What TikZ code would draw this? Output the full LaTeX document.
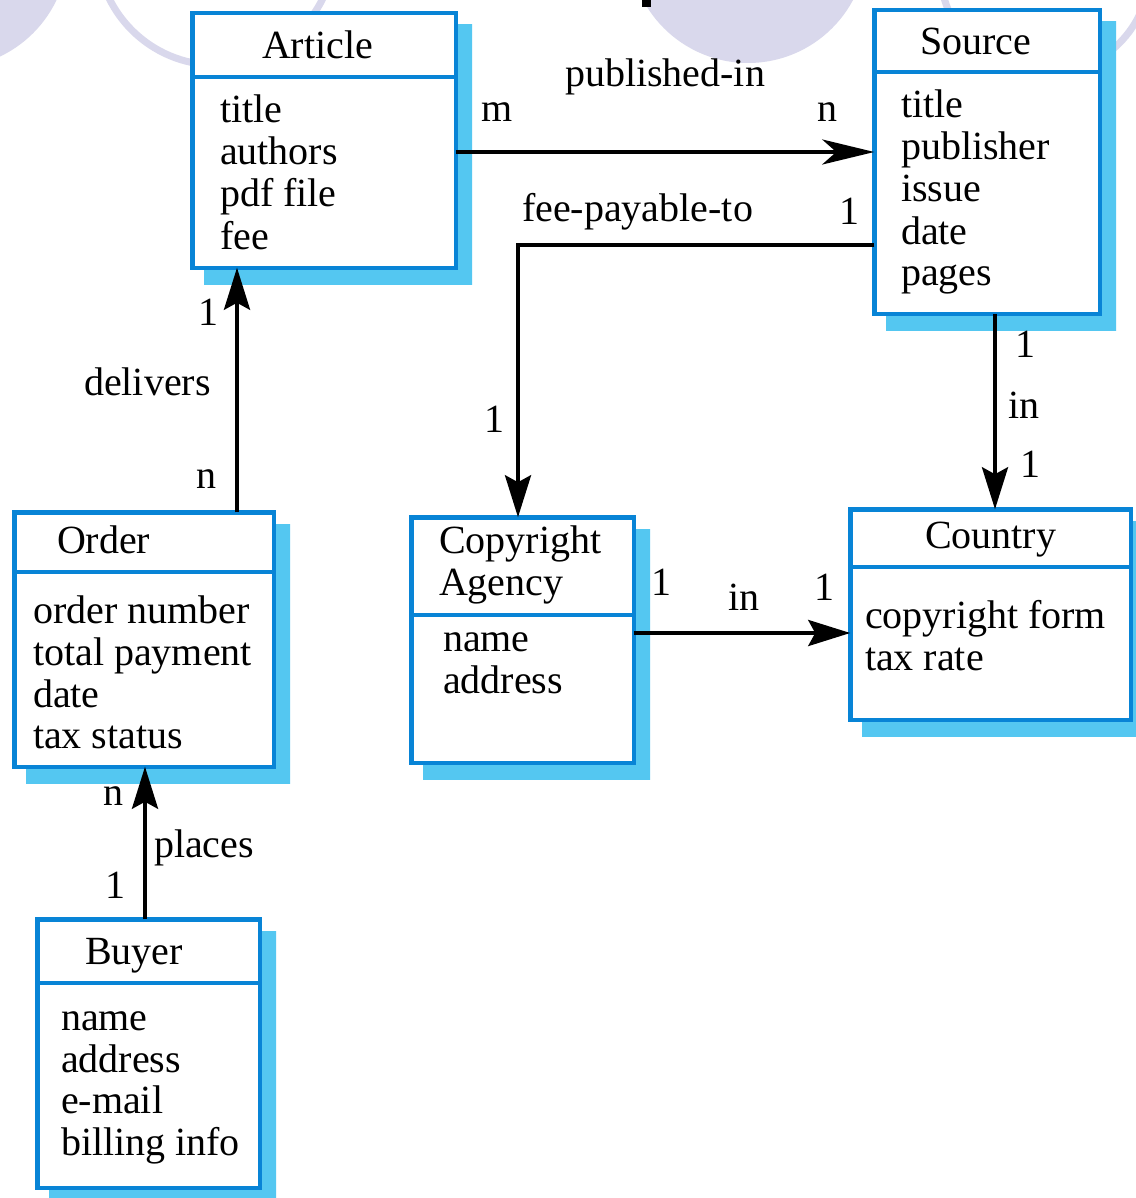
\documentclass[tikz,border=0pt]{standalone}
\usepackage{fontspec}
\setmainfont{Liberation Serif}
\usetikzlibrary{arrows.meta}
\definecolor{lav}{RGB}{217,216,236}
\definecolor{bblue}{RGB}{8,132,214}
\definecolor{shdark}{RGB}{0,171,236}
\definecolor{shmid}{RGB}{30,182,237}
\definecolor{shlight}{RGB}{84,199,241}
\pgfdeclareradialshading{boxshade}{\pgfpoint{0bp}{0bp}}{color(0bp)=(shlight); color(36bp)=(shlight); color(50bp)=(shmid); color(60bp)=(shdark); color(71bp)=(shdark)}
\tikzset{
  cbox/.style={draw=bblue, line width=4.5pt, fill=white, inner sep=0pt, outer sep=0pt, rectangle},
  divline/.style={draw=bblue, line width=4.5pt},
  txt/.style={inner sep=0pt, outer sep=0pt, anchor=base west, font=\fontsize{40}{42}\selectfont},
  conn/.style={draw=black, line width=4pt, -{Stealth[length=42pt,width=26pt,inset=7pt]}},
  connlong/.style={draw=black, line width=4pt, -{Stealth[length=52pt,width=25pt,inset=14pt]}},
  bgring/.style={draw=lav, line width=7pt},
}
% name, x1, y1, x2, y2, divider y
\newcommand\classbox[6]{%
  \shade[shading=boxshade] (#2+14,#3+14) rectangle (#4+14,#5+14);
  \node[cbox, minimum width={#4-#2-4.5}, minimum height={#5-#3-4.5}] (#1) at ({(#2+#4)/2},{(#3+#5)/2}) {};
  \draw[divline] (#2+2,#6) -- (#4-2,#6);
}
\begin{document}
\begin{tikzpicture}[x=1pt,y=-1pt]
\useasboundingbox (0,0) rectangle (1135,1198);
\fill[white] (0,0) rectangle (1135,1198);
% background decoration
\fill[lav] (-51,-51) circle (119);
\draw[bgring] (216,-54) circle (119);
\fill[lav] (748,-56) circle (119);
\draw[bgring] (1045,-31) circle (105);
\fill[black] (642,-2) rectangle (651,7);

% class boxes
\classbox{article}{190}{11}{458}{270}{77}
\classbox{source}{872}{8}{1102}{316}{72}
\classbox{order}{12}{510}{276}{769}{572}
\classbox{agency}{409}{515}{636}{765}{615}
\classbox{country}{848}{507}{1133}{722}{567}
\classbox{buyer}{35}{917}{262}{1190}{983}

% Article
\node[txt] (articleT) at (262,59) {Article};
\node[txt] (articleA1) at (220,123) {title};
\node[txt] (articleA2) at (220,165) {authors};
\node[txt] (articleA3) at (220,207) {pdf file};
\node[txt] (articleA4) at (220,250) {fee};
% Source
\node[txt] (sourceT) at (920,55) {Source};
\node[txt] (sourceA1) at (901,118) {title};
\node[txt] (sourceA2) at (901,160) {publisher};
\node[txt] (sourceA3) at (901,202) {issue};
\node[txt] (sourceA4) at (901,244) {date};
\node[txt] (sourceA5) at (901,285) {pages};
% Order
\node[txt] (orderT) at (57,553) {Order};
\node[txt] (orderA1) at (33,623) {order number};
\node[txt] (orderA2) at (33,665) {total payment};
\node[txt] (orderA3) at (33,707) {date};
\node[txt] (orderA4) at (33,748) {tax status};
% Copyright Agency
\node[txt] (agencyT1) at (439,553) {Copyright};
\node[txt] (agencyT2) at (439,595) {Agency};
\node[txt] (agencyA1) at (443,651) {name};
\node[txt] (agencyA2) at (443,693) {address};
% Country
\node[txt] (countryT) at (925,548) {Country};
\node[txt] (countryA1) at (865,628) {copyright form};
\node[txt] (countryA2) at (865,670) {tax rate};
% Buyer
\node[txt] (buyerT) at (85,964) {Buyer};
\node[txt] (buyerA1) at (61,1030) {name};
\node[txt] (buyerA2) at (61,1072) {address};
\node[txt] (buyerA3) at (61,1113) {e-mail};
\node[txt] (buyerA4) at (61,1155) {billing info};

% connector guide coordinates
\coordinate (pubY) at (0,152);
\coordinate (feeY) at (0,245);
\coordinate (feeX) at (518,0);
\coordinate (delX) at (237,0);
\coordinate (plX) at (145,0);
\coordinate (inX) at (995,0);
\coordinate (inY) at (0,633);

% connectors
\draw[connlong] (article.east |- pubY) -- (source.west |- pubY);
\draw[conn] (source.west |- feeY) -| (agency.north -| feeX);
\draw[conn] (order.north -| delX) -- (article.south -| delX);
\draw[conn] (buyer.north -| plX) -- (order.south -| plX);
\draw[conn] (source.south -| inX) -- (country.north -| inX);
\draw[conn] (agency.east |- inY) -- (country.west |- inY);

% connector labels
\node[txt] (lPub) at (565,87) {published-in};
\node[txt] (lPubM) at (481,122) {m};
\node[txt] (lPubN) at (817,122) {n};
\node[txt] (lFee) at (522,222) {fee-payable-to};
\node[txt] (lFee1) at (839,225) {1};
\node[txt] (lFee2) at (484,432) {1};
\node[txt] (lDel1) at (198,325) {1};
\node[txt] (lDel) at (84,395) {delivers};
\node[txt] (lDelN) at (196,488) {n};
\node[txt] (lPlN) at (103,805) {n};
\node[txt] (lPl) at (154,857) {places};
\node[txt] (lPl1) at (105,898) {1};
\node[txt] (lIn1a) at (1015,357) {1};
\node[txt] (lIn1) at (1008,418) {in};
\node[txt] (lIn1b) at (1020,477) {1};
\node[txt] (lIn2a) at (651,595) {1};
\node[txt] (lIn2) at (728,610) {in};
\node[txt] (lIn2b) at (814,600) {1};
\end{tikzpicture}
\end{document}
